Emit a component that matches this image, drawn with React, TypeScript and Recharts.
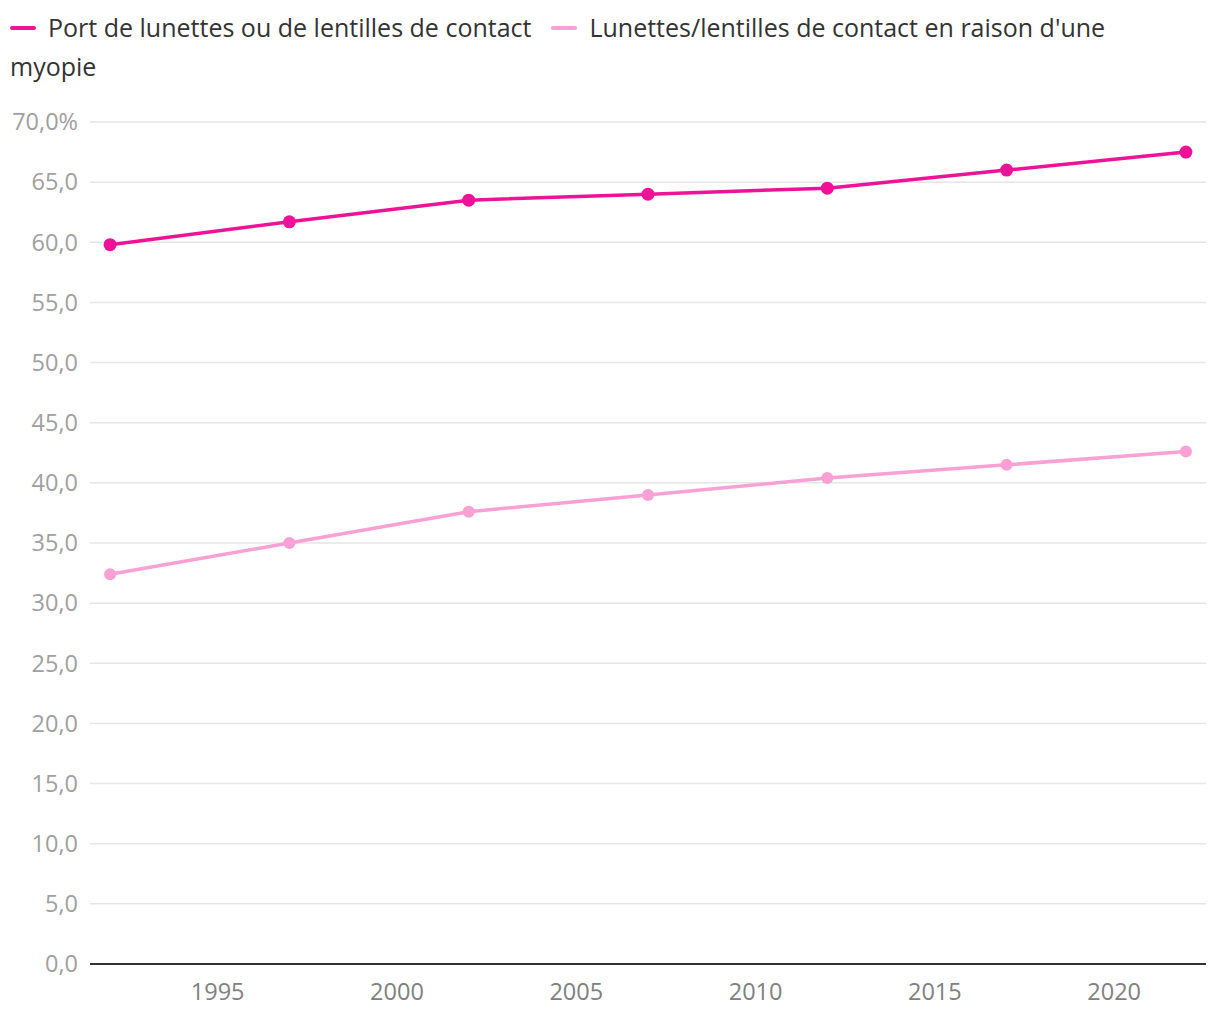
import React from 'react';
import { LineChart, Line, XAxis, YAxis, CartesianGrid } from 'recharts';

const years = [1992, 1997, 2002, 2007, 2012, 2017, 2022];
const lunettes = [59.8, 61.7, 63.5, 64.0, 64.5, 66.0, 67.5];
const myopie = [32.4, 35.0, 37.6, 39.0, 40.4, 41.5, 42.6];
const yTicks = [0, 5, 10, 15, 20, 25, 30, 35, 40, 45, 50, 55, 60, 65, 70];
const xTicks = [1995, 2000, 2005, 2010, 2015, 2020];
const seriesNames = ['Port de lunettes ou de lentilles de contact', "Lunettes/lentilles de contact en raison d'une myopie"];

const data = years.map((y, i) => ({ year: y, a: lunettes[i], b: myopie[i] }));

const C1 = '#EE1299';
const C2 = '#F9A0D5';
const FONT = "'Open Sans', 'Noto Sans', sans-serif";

const fmtY = (v: number) => (v === 70 ? '70,0%' : v.toFixed(1).replace('.', ','));

const markerStyle = (color: string, ml: number): React.CSSProperties => ({
  display: 'inline-block',
  width: 26,
  height: 4,
  borderRadius: 2,
  background: color,
  verticalAlign: 'middle',
  marginLeft: ml,
  marginRight: 12,
  position: 'relative',
  top: -2,
});

// Render a label word by word so that a wrapped label keeps tight boxes per line.
function Words({ text }: { text: string }) {
  const words = text.split(' ');
  return (
    <>
      {words.map((w, i) => (
        <React.Fragment key={i}>
          <span>{w}</span>
          {i < words.length - 1 ? ' ' : null}
        </React.Fragment>
      ))}
    </>
  );
}

export default function App() {
  return (
    <div style={{ position: 'absolute', left: 0, top: 0, width: 1220, height: 1020, fontFamily: FONT, background: '#fff' }}>
      <div style={{ position: 'absolute', left: 10, top: 8, width: 1110, fontSize: 25, fontWeight: 500, lineHeight: '39px', color: '#333' }}>
        <span style={markerStyle(C1, 0)} />
        <Words text={seriesNames[0]} />
        <span style={markerStyle(C2, 20)} />
        <Words text={seriesNames[1]} />
      </div>
      <div style={{ position: 'absolute', left: 0, top: 0 }}>
        <LineChart width={1220} height={1020} data={data} margin={{ top: 122, right: 14, bottom: 16, left: 0 }}>
          <CartesianGrid vertical={false} stroke="#e6e6e6" strokeWidth={1.5} />
          <XAxis
            dataKey="year"
            type="number"
            domain={[1991.44, 2022.56]}
            ticks={xTicks}
            height={40}
            tickLine={false}
            tickSize={0}
            tickMargin={19}
            axisLine={{ stroke: '#333', strokeWidth: 2 }}
            tick={{ fill: '#808080', fontSize: 23.5, fontWeight: 500, fontFamily: FONT }}
          />
          <YAxis
            width={90}
            domain={[0, 70]}
            ticks={yTicks}
            tickFormatter={fmtY}
            axisLine={false}
            tickLine={false}
            tickSize={0}
            tickMargin={12}
            tick={{ fill: '#a0a0a0', fontSize: 23.5, fontWeight: 500, fontFamily: FONT }}
          />
          <Line dataKey="a" stroke={C1} strokeWidth={3.5} dot={{ r: 6.5, fill: C1, stroke: C1, strokeWidth: 0 }} isAnimationActive={false} />
          <Line dataKey="b" stroke={C2} strokeWidth={3.5} dot={{ r: 6, fill: C2, stroke: C2, strokeWidth: 0 }} isAnimationActive={false} />
        </LineChart>
      </div>
    </div>
  );
}
